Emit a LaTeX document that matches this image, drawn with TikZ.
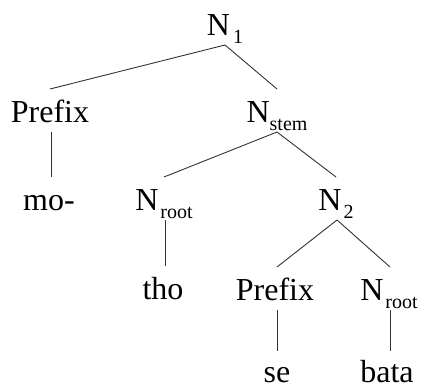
\documentclass[tikz,border=0pt]{standalone}
\usepackage{fontspec}
\setmainfont{Liberation Serif}
\newcommand{\sbs}[1]{\raisebox{-8pt}{\fontsize{20}{20}\selectfont #1}}
\begin{document}
\begin{tikzpicture}[x=1pt,y=1pt,
  lbl/.style={anchor=base, inner sep=0pt, outer sep=2pt, text height=31pt, text depth=8pt, font=\fontsize{32}{34}\selectfont},
  leaf/.style={lbl, text depth=1pt, outer sep=0pt},
  edge/.style={draw=black!80, line width=0.9pt}]
\useasboundingbox (0,0) rectangle (423,-389);
\node[lbl] (n1) at (225,-35) {N\hspace{3pt}\sbs{1}};
\node[lbl] (pre1) at (50,-122) {Prefix};
\node[lbl] (nstem) at (277,-122) {N\sbs{stem}};
\node[lbl] (mo) at (49,-210) {mo-};
\node[lbl] (nroot1) at (164,-210) {N\hspace{2pt}\sbs{root}};
\node[lbl] (n2) at (336,-210) {N\hspace{2pt}\sbs{2}};
\node[lbl] (tho) at (163,-299) {tho};
\node[lbl] (pre2) at (275,-300) {Prefix};
\node[lbl] (nroot2) at (389,-300) {N\hspace{2pt}\sbs{root}};
\node[leaf] (se) at (277,-382) {se};
\node[leaf] (bata) at (387,-382) {bata};
\draw[edge] (n1.south) -- (pre1.north);
\draw[edge] (n1.south) -- (nstem.north);
\draw[edge] ([xshift=1pt]pre1.south) -- ([xshift=1pt]pre1.south |- mo.north);
\draw[edge] (nstem.south) -- (nroot1.north);
\draw[edge] (nstem.south) -- (n2.north);
\draw[edge] ([xshift=1pt]nroot1.south) -- ([xshift=1pt]nroot1.south |- tho.north);
\draw[edge] ([xshift=1pt]n2.south) -- ([xshift=2pt]pre2.north);
\draw[edge] ([xshift=1pt]n2.south) -- ([xshift=1pt]nroot2.north);
\draw[edge] ([xshift=2pt]pre2.south) -- ([xshift=2pt]pre2.south |- se.north);
\draw[edge] ([xshift=1pt]nroot2.south) -- ([xshift=1pt]nroot2.south |- bata.north);
\end{tikzpicture}
\end{document}
